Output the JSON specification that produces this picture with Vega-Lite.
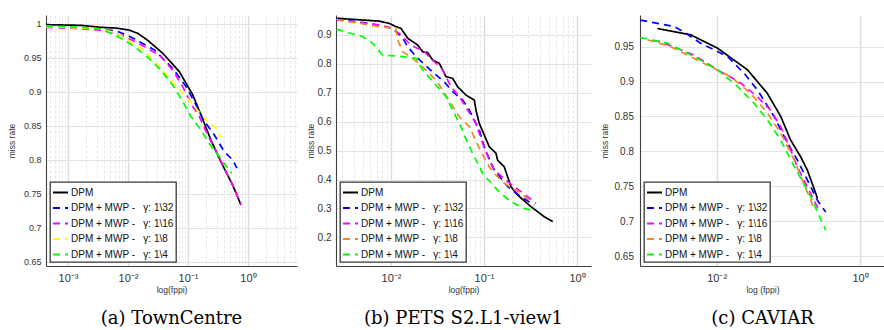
{
  "$schema": "https://vega.github.io/schema/vega-lite/v6.json",
  "padding": {"left": 7, "top": 15, "right": 0, "bottom": 0},
  "background": "white",
  "spacing": 9,
  "datasets": {
    "a": [
      {"s": "DPM", "x": 0.00043, "y": 0.999}, {"s": "DPM", "x": 0.00165, "y": 0.998}, {"s": "DPM", "x": 0.00355, "y": 0.995}, {"s": "DPM", "x": 0.0063, "y": 0.994}, {"s": "DPM", "x": 0.0105, "y": 0.991}, {"s": "DPM", "x": 0.0147, "y": 0.986}, {"s": "DPM", "x": 0.0213, "y": 0.976}, {"s": "DPM", "x": 0.0379, "y": 0.957}, {"s": "DPM", "x": 0.0716, "y": 0.930}, {"s": "DPM", "x": 0.1198, "y": 0.896}, {"s": "DPM", "x": 0.165, "y": 0.866}, {"s": "DPM", "x": 0.242, "y": 0.829}, {"s": "DPM", "x": 0.355, "y": 0.797}, {"s": "DPM", "x": 0.556, "y": 0.763}, {"s": "DPM", "x": 0.764, "y": 0.734},
      {"s": "32", "x": 0.00043, "y": 0.996}, {"s": "32", "x": 0.00242, "y": 0.993}, {"s": "32", "x": 0.0063, "y": 0.99}, {"s": "32", "x": 0.0105, "y": 0.982}, {"s": "32", "x": 0.0274, "y": 0.962}, {"s": "32", "x": 0.0556, "y": 0.935}, {"s": "32", "x": 0.0926, "y": 0.908}, {"s": "32", "x": 0.127, "y": 0.886}, {"s": "32", "x": 0.185, "y": 0.858}, {"s": "32", "x": 0.274, "y": 0.837}, {"s": "32", "x": 0.403, "y": 0.812}, {"s": "32", "x": 0.556, "y": 0.800}, {"s": "32", "x": 0.656, "y": 0.788},
      {"s": "16", "x": 0.00043, "y": 0.995}, {"s": "16", "x": 0.001, "y": 0.994}, {"s": "16", "x": 0.00355, "y": 0.991}, {"s": "16", "x": 0.00867, "y": 0.982}, {"s": "16", "x": 0.0187, "y": 0.967}, {"s": "16", "x": 0.0355, "y": 0.952}, {"s": "16", "x": 0.0556, "y": 0.932}, {"s": "16", "x": 0.0816, "y": 0.908}, {"s": "16", "x": 0.112, "y": 0.883}, {"s": "16", "x": 0.154, "y": 0.864}, {"s": "16", "x": 0.213, "y": 0.837}, {"s": "16", "x": 0.293, "y": 0.813}, {"s": "16", "x": 0.403, "y": 0.788}, {"s": "16", "x": 0.556, "y": 0.763}, {"s": "16", "x": 0.764, "y": 0.734},
      {"s": "8", "x": 0.00043, "y": 0.996}, {"s": "8", "x": 0.00355, "y": 0.993}, {"s": "8", "x": 0.0067, "y": 0.986}, {"s": "8", "x": 0.0176, "y": 0.963}, {"s": "8", "x": 0.0459, "y": 0.923}, {"s": "8", "x": 0.0926, "y": 0.893}, {"s": "8", "x": 0.2, "y": 0.859}, {"s": "8", "x": 0.293, "y": 0.847}, {"s": "8", "x": 0.355, "y": 0.833},
      {"s": "4", "x": 0.00043, "y": 0.997}, {"s": "4", "x": 0.00165, "y": 0.995}, {"s": "4", "x": 0.00355, "y": 0.993}, {"s": "4", "x": 0.00764, "y": 0.979}, {"s": "4", "x": 0.0127, "y": 0.967}, {"s": "4", "x": 0.0226, "y": 0.949}, {"s": "4", "x": 0.0355, "y": 0.932}, {"s": "4", "x": 0.0556, "y": 0.910}, {"s": "4", "x": 0.0816, "y": 0.886}, {"s": "4", "x": 0.112, "y": 0.864}, {"s": "4", "x": 0.165, "y": 0.844}, {"s": "4", "x": 0.226, "y": 0.824}, {"s": "4", "x": 0.332, "y": 0.805}, {"s": "4", "x": 0.459, "y": 0.788}, {"s": "4", "x": 0.541, "y": 0.780}
    ],
    "b": [
      {"s": "DPM", "x": 0.0026, "y": 0.958}, {"s": "DPM", "x": 0.00748, "y": 0.948}, {"s": "DPM", "x": 0.00959, "y": 0.940}, {"s": "DPM", "x": 0.0113, "y": 0.929}, {"s": "DPM", "x": 0.0128, "y": 0.923}, {"s": "DPM", "x": 0.0151, "y": 0.889}, {"s": "DPM", "x": 0.0194, "y": 0.865}, {"s": "DPM", "x": 0.0219, "y": 0.842}, {"s": "DPM", "x": 0.0248, "y": 0.839}, {"s": "DPM", "x": 0.0281, "y": 0.813}, {"s": "DPM", "x": 0.0331, "y": 0.802}, {"s": "DPM", "x": 0.039, "y": 0.756}, {"s": "DPM", "x": 0.046, "y": 0.750}, {"s": "DPM", "x": 0.0521, "y": 0.721}, {"s": "DPM", "x": 0.064, "y": 0.692}, {"s": "DPM", "x": 0.0787, "y": 0.675}, {"s": "DPM", "x": 0.082, "y": 0.640}, {"s": "DPM", "x": 0.089, "y": 0.594}, {"s": "DPM", "x": 0.1007, "y": 0.554}, {"s": "DPM", "x": 0.114, "y": 0.513}, {"s": "DPM", "x": 0.1345, "y": 0.491}, {"s": "DPM", "x": 0.140, "y": 0.467}, {"s": "DPM", "x": 0.165, "y": 0.444}, {"s": "DPM", "x": 0.195, "y": 0.375}, {"s": "DPM", "x": 0.230, "y": 0.346}, {"s": "DPM", "x": 0.320, "y": 0.306}, {"s": "DPM", "x": 0.445, "y": 0.271}, {"s": "DPM", "x": 0.548, "y": 0.254},
      {"s": "32", "x": 0.0026, "y": 0.955}, {"s": "32", "x": 0.00585, "y": 0.940}, {"s": "32", "x": 0.0104, "y": 0.923}, {"s": "32", "x": 0.0134, "y": 0.889}, {"s": "32", "x": 0.0151, "y": 0.860}, {"s": "32", "x": 0.0186, "y": 0.825}, {"s": "32", "x": 0.0292, "y": 0.767}, {"s": "32", "x": 0.0374, "y": 0.738}, {"s": "32", "x": 0.046, "y": 0.704}, {"s": "32", "x": 0.059, "y": 0.675}, {"s": "32", "x": 0.0695, "y": 0.640}, {"s": "32", "x": 0.089, "y": 0.571}, {"s": "32", "x": 0.1007, "y": 0.513}, {"s": "32", "x": 0.119, "y": 0.456}, {"s": "32", "x": 0.129, "y": 0.433}, {"s": "32", "x": 0.18, "y": 0.375}, {"s": "32", "x": 0.25, "y": 0.340}, {"s": "32", "x": 0.348, "y": 0.312},
      {"s": "16", "x": 0.0026, "y": 0.952}, {"s": "16", "x": 0.00748, "y": 0.935}, {"s": "16", "x": 0.0104, "y": 0.923}, {"s": "16", "x": 0.0128, "y": 0.900}, {"s": "16", "x": 0.0164, "y": 0.865}, {"s": "16", "x": 0.0228, "y": 0.842}, {"s": "16", "x": 0.0305, "y": 0.802}, {"s": "16", "x": 0.036, "y": 0.779}, {"s": "16", "x": 0.0442, "y": 0.721}, {"s": "16", "x": 0.0543, "y": 0.687}, {"s": "16", "x": 0.0668, "y": 0.640}, {"s": "16", "x": 0.082, "y": 0.594}, {"s": "16", "x": 0.0968, "y": 0.525}, {"s": "16", "x": 0.114, "y": 0.467}, {"s": "16", "x": 0.129, "y": 0.433}, {"s": "16", "x": 0.18, "y": 0.392}, {"s": "16", "x": 0.25, "y": 0.358}, {"s": "16", "x": 0.363, "y": 0.318},
      {"s": "8", "x": 0.0026, "y": 0.954}, {"s": "8", "x": 0.00748, "y": 0.929}, {"s": "8", "x": 0.0113, "y": 0.923}, {"s": "8", "x": 0.0118, "y": 0.883}, {"s": "8", "x": 0.0134, "y": 0.842}, {"s": "8", "x": 0.017, "y": 0.819}, {"s": "8", "x": 0.0219, "y": 0.790}, {"s": "8", "x": 0.0269, "y": 0.762}, {"s": "8", "x": 0.0331, "y": 0.727}, {"s": "8", "x": 0.0407, "y": 0.681}, {"s": "8", "x": 0.0543, "y": 0.617}, {"s": "8", "x": 0.0695, "y": 0.583}, {"s": "8", "x": 0.089, "y": 0.508}, {"s": "8", "x": 0.114, "y": 0.444}, {"s": "8", "x": 0.129, "y": 0.421}, {"s": "8", "x": 0.165, "y": 0.387}, {"s": "8", "x": 0.25, "y": 0.352}, {"s": "8", "x": 0.32, "y": 0.323},
      {"s": "4", "x": 0.0026, "y": 0.920}, {"s": "4", "x": 0.00497, "y": 0.894}, {"s": "4", "x": 0.00636, "y": 0.871}, {"s": "4", "x": 0.0081, "y": 0.831}, {"s": "4", "x": 0.0134, "y": 0.825}, {"s": "4", "x": 0.0186, "y": 0.819}, {"s": "4", "x": 0.0219, "y": 0.779}, {"s": "4", "x": 0.0305, "y": 0.727}, {"s": "4", "x": 0.039, "y": 0.687}, {"s": "4", "x": 0.046, "y": 0.640}, {"s": "4", "x": 0.0565, "y": 0.583}, {"s": "4", "x": 0.0668, "y": 0.525}, {"s": "4", "x": 0.0787, "y": 0.479}, {"s": "4", "x": 0.0968, "y": 0.421}, {"s": "4", "x": 0.129, "y": 0.375}, {"s": "4", "x": 0.152, "y": 0.352}, {"s": "4", "x": 0.195, "y": 0.323}, {"s": "4", "x": 0.27, "y": 0.300}, {"s": "4", "x": 0.32, "y": 0.294}
    ],
    "c": [
      {"s": "DPM", "x": 0.00149, "y": 0.976}, {"s": "DPM", "x": 0.00434, "y": 0.967}, {"s": "DPM", "x": 0.0102, "y": 0.948}, {"s": "DPM", "x": 0.0268, "y": 0.917}, {"s": "DPM", "x": 0.0509, "y": 0.883}, {"s": "DPM", "x": 0.0782, "y": 0.850}, {"s": "DPM", "x": 0.1077, "y": 0.816}, {"s": "DPM", "x": 0.1486, "y": 0.792}, {"s": "DPM", "x": 0.184, "y": 0.773}, {"s": "DPM", "x": 0.254, "y": 0.733},
      {"s": "32", "x": 0.00086, "y": 0.988}, {"s": "32", "x": 0.00254, "y": 0.979}, {"s": "32", "x": 0.0035, "y": 0.971}, {"s": "32", "x": 0.00598, "y": 0.955}, {"s": "32", "x": 0.0141, "y": 0.936}, {"s": "32", "x": 0.024, "y": 0.912}, {"s": "32", "x": 0.037, "y": 0.888}, {"s": "32", "x": 0.0631, "y": 0.850}, {"s": "32", "x": 0.0968, "y": 0.812}, {"s": "32", "x": 0.1326, "y": 0.788}, {"s": "32", "x": 0.254, "y": 0.730}, {"s": "32", "x": 0.331, "y": 0.713},
      {"s": "16", "x": 0.0013, "y": 0.959}, {"s": "16", "x": 0.00166, "y": 0.957}, {"s": "16", "x": 0.00482, "y": 0.938}, {"s": "16", "x": 0.0102, "y": 0.917}, {"s": "16", "x": 0.0216, "y": 0.898}, {"s": "16", "x": 0.037, "y": 0.878}, {"s": "16", "x": 0.0566, "y": 0.859}, {"s": "16", "x": 0.0782, "y": 0.835}, {"s": "16", "x": 0.1077, "y": 0.802}, {"s": "16", "x": 0.1326, "y": 0.778}, {"s": "16", "x": 0.266, "y": 0.716},
      {"s": "8", "x": 0.00108, "y": 0.960}, {"s": "8", "x": 0.00228, "y": 0.950}, {"s": "8", "x": 0.00665, "y": 0.926}, {"s": "8", "x": 0.0157, "y": 0.907}, {"s": "8", "x": 0.0298, "y": 0.883}, {"s": "8", "x": 0.0509, "y": 0.855}, {"s": "8", "x": 0.0782, "y": 0.826}, {"s": "8", "x": 0.1197, "y": 0.788}, {"s": "8", "x": 0.14, "y": 0.771}, {"s": "8", "x": 0.228, "y": 0.718},
      {"s": "4", "x": 0.00086, "y": 0.963}, {"s": "4", "x": 0.00205, "y": 0.955}, {"s": "4", "x": 0.00482, "y": 0.936}, {"s": "4", "x": 0.0102, "y": 0.917}, {"s": "4", "x": 0.0195, "y": 0.893}, {"s": "4", "x": 0.0331, "y": 0.869}, {"s": "4", "x": 0.0509, "y": 0.845}, {"s": "4", "x": 0.0782, "y": 0.816}, {"s": "4", "x": 0.1077, "y": 0.788}, {"s": "4", "x": 0.2045, "y": 0.735}, {"s": "4", "x": 0.331, "y": 0.687}
    ]
  },
  "hconcat": [
    {
      "width": 251, "height": 251,
      "data": {"name": "a"},
      "title": {"text": "(a) TownCentre", "orient": "bottom", "offset": 16},
      "mark": {"type": "line", "clip": true, "strokeWidth": 1.7},
      "encoding": {
        "x": {"field": "x", "type": "quantitative",
          "scale": {"type": "log", "domain": [0.00043, 6.56], "nice": false},
          "axis": {"title": "log(fppi)",
            "values": [0.0005, 0.0006, 0.0007, 0.0008, 0.0009, 0.001, 0.002, 0.003, 0.004, 0.005, 0.006, 0.007, 0.008, 0.009, 0.01, 0.02, 0.03, 0.04, 0.05, 0.06, 0.07, 0.08, 0.09, 0.1, 0.2, 0.3, 0.4, 0.5, 0.6, 0.7, 0.8, 0.9, 1, 2, 3, 4, 5, 6],
            "labelExpr": "datum.value == 0.001 ? '10⁻³' : datum.value == 0.01 ? '10⁻²' : datum.value == 0.1 ? '10⁻¹' : datum.value == 1 ? '10⁰' : ''",
            "gridDash": {"condition": {"test": "datum.value == 0.001 || datum.value == 0.01 || datum.value == 0.1 || datum.value == 1", "value": [1, 0]}, "value": [3, 2]},
            "gridColor": {"condition": {"test": "datum.value == 0.001 || datum.value == 0.01 || datum.value == 0.1 || datum.value == 1", "value": "#dcdcdc"}, "value": "#e8e8e8"},
            "gridWidth": {"condition": {"test": "datum.value == 0.001 || datum.value == 0.01 || datum.value == 0.1 || datum.value == 1", "value": 1.4}, "value": 1}}},
        "y": {"field": "y", "type": "quantitative",
          "scale": {"domain": [0.6441, 1.0132], "nice": false, "zero": false},
          "axis": {"title": "miss rate", "values": [0.65, 0.7, 0.75, 0.8, 0.85, 0.9, 0.95, 1], "format": "~g",
            "labelFontSize": 9, "labelPadding": 5, "minExtent": 25, "maxExtent": 25, "titlePadding": 4.5}},
        "color": {"field": "s", "type": "nominal",
          "scale": {"domain": ["DPM", "32", "16", "8", "4"], "range": ["#000000", "#0000ff", "#ff00ff", "#ffff00", "#00ff00"]},
          "legend": {"title": null, "labelExpr": "datum.label == 'DPM' ? 'DPM' : 'DPM + MWP -\u00a0\u00a0\u00a0γ: 1\\\\' + datum.label"}},
        "strokeDash": {"field": "s", "type": "nominal",
          "scale": {"domain": ["DPM", "32", "16", "8", "4"], "range": [[1, 0], [7, 5], [7, 5], [7, 5], [7, 5]]},
          "legend": {"title": null, "labelExpr": "datum.label == 'DPM' ? 'DPM' : 'DPM + MWP -\u00a0\u00a0\u00a0γ: 1\\\\' + datum.label"}}
      }
    },
    {
      "width": 255, "height": 251,
      "data": {"name": "b"},
      "title": {"text": "(b) PETS S2.L1-view1", "orient": "bottom", "offset": 16},
      "mark": {"type": "line", "clip": true, "strokeWidth": 1.7},
      "encoding": {
        "x": {"field": "x", "type": "quantitative",
          "scale": {"type": "log", "domain": [0.002563, 1.414], "nice": false},
          "axis": {"title": "log(fppi)",
            "values": [0.003, 0.004, 0.005, 0.006, 0.007, 0.008, 0.009, 0.01, 0.02, 0.03, 0.04, 0.05, 0.06, 0.07, 0.08, 0.09, 0.1, 0.2, 0.3, 0.4, 0.5, 0.6, 0.7, 0.8, 0.9, 1],
            "labelExpr": "datum.value == 0.01 ? '10⁻²' : datum.value == 0.1 ? '10⁻¹' : datum.value == 1 ? '10⁰' : ''",
            "gridDash": {"condition": {"test": "datum.value == 0.01 || datum.value == 0.1 || datum.value == 1", "value": [1, 0]}, "value": [3, 2]},
            "gridColor": {"condition": {"test": "datum.value == 0.01 || datum.value == 0.1 || datum.value == 1", "value": "#dcdcdc"}, "value": "#e8e8e8"},
            "gridWidth": {"condition": {"test": "datum.value == 0.01 || datum.value == 0.1 || datum.value == 1", "value": 1.4}, "value": 1}}},
        "y": {"field": "y", "type": "quantitative",
          "scale": {"domain": [0.1007, 0.9692], "nice": false, "zero": false},
          "axis": {"title": "miss rate", "values": [0.2, 0.3, 0.4, 0.5, 0.6, 0.7, 0.8, 0.9], "format": "~g",
            "labelFontSize": 10, "labelPadding": 5, "minExtent": 19, "maxExtent": 19, "titlePadding": 2}},
        "color": {"field": "s", "type": "nominal",
          "scale": {"domain": ["DPM", "32", "16", "8", "4"], "range": ["#000000", "#0000ff", "#ff00ff", "#ec8a2a", "#00ff00"]},
          "legend": {"title": null, "labelExpr": "datum.label == 'DPM' ? 'DPM' : 'DPM + MWP -\u00a0\u00a0\u00a0γ: 1\\\\' + datum.label"}},
        "strokeDash": {"field": "s", "type": "nominal",
          "scale": {"domain": ["DPM", "32", "16", "8", "4"], "range": [[1, 0], [7, 5], [7, 5], [7, 5], [7, 5]]},
          "legend": {"title": null, "labelExpr": "datum.label == 'DPM' ? 'DPM' : 'DPM + MWP -\u00a0\u00a0\u00a0γ: 1\\\\' + datum.label"}}
      }
    },
    {
      "width": 245, "height": 251,
      "data": {"name": "c"},
      "title": {"text": "(c) CAVIAR", "orient": "bottom", "offset": 16},
      "mark": {"type": "line", "clip": true, "strokeWidth": 1.7},
      "encoding": {
        "x": {"field": "x", "type": "quantitative",
          "scale": {"type": "log", "domain": [0.0008515, 2.225], "nice": false},
          "axis": {"title": "log (fppi)",
            "values": [0.01, 1],
            "labelExpr": "datum.value == 0.01 ? '10⁻²' : datum.value == 1 ? '10⁰' : ''",
            "gridColor": "#dcdcdc", "gridWidth": 1.4}},
        "y": {"field": "y", "type": "quantitative",
          "scale": {"domain": [0.6357, 0.9954], "nice": false, "zero": false},
          "axis": {"title": "miss rate", "values": [0.65, 0.7, 0.75, 0.8, 0.85, 0.9, 0.95], "format": "~g",
            "labelFontSize": 10, "labelPadding": 6.5, "minExtent": 26, "maxExtent": 26, "titlePadding": 4.8}},
        "color": {"field": "s", "type": "nominal",
          "scale": {"domain": ["DPM", "32", "16", "8", "4"], "range": ["#000000", "#0000ff", "#ff00ff", "#ec8a2a", "#00ff00"]},
          "legend": {"title": null, "labelExpr": "datum.label == 'DPM' ? 'DPM' : 'DPM + MWP -\u00a0\u00a0\u00a0γ: 1\\\\' + datum.label"}},
        "strokeDash": {"field": "s", "type": "nominal",
          "scale": {"domain": ["DPM", "32", "16", "8", "4"], "range": [[1, 0], [7, 5], [7, 5], [7, 5], [7, 5]]},
          "legend": {"title": null, "labelExpr": "datum.label == 'DPM' ? 'DPM' : 'DPM + MWP -\u00a0\u00a0\u00a0γ: 1\\\\' + datum.label"}}
      }
    }
  ],
  "resolve": {"scale": {"x": "independent", "y": "independent", "color": "independent", "strokeDash": "independent"}},
  "config": {
    "view": {"stroke": null},
    "font": "Liberation Sans",
    "axis": {"labelFont": "Liberation Sans", "titleFont": "Liberation Sans", "labelColor": "#333333", "titleColor": "#333333",
      "titleFontWeight": "normal", "titleFontSize": 8.5, "domainColor": "#404040", "domainWidth": 1.1, "ticks": false,
      "grid": true, "gridColor": "#e3e3e3", "gridWidth": 1.2, "labelOverlap": false, "labelBound": false},
    "axisX": {"labelPadding": 6, "titlePadding": 2, "labelFontSize": 11},
    "legend": {"orient": "bottom-left", "offset": 4, "fillColor": "white", "strokeColor": "#3a3a3a", "strokeWidth": 1.3,
      "padding": 2, "symbolType": "stroke", "symbolSize": 225, "symbolStrokeWidth": 1.8, "labelFontSize": 10,
      "labelFont": "Liberation Sans", "labelColor": "#111111", "labelOffset": 2, "rowPadding": 1.5, "titlePadding": 0, "labelLimit": 300},
    "title": {"font": "DejaVu Serif", "fontSize": 18, "fontWeight": "normal", "color": "#000000", "anchor": "middle"}
  }
}
